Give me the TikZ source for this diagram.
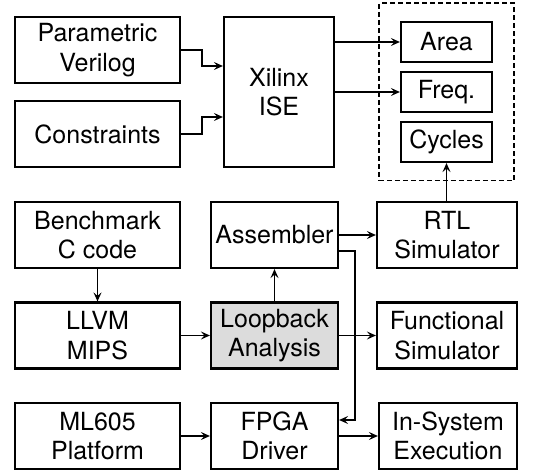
\documentclass[tikz,border=0pt]{standalone}
\usepackage{fontspec}
\setmainfont{TeX Gyre Heros}
\usetikzlibrary{arrows.meta,fit}
\definecolor{boxgray}{HTML}{DCDCDC}
\tikzset{
  box/.style={draw, line width=2.2pt, rectangle, align=center, inner sep=0pt,
    font=\fontsize{25}{29.5}\selectfont},
  lbox/.style={box, minimum width=165pt, minimum height=66pt},
  mbox/.style={box, minimum width=127pt, minimum height=66pt},
  rbox/.style={box, minimum width=140pt, minimum height=66pt},
  sbox/.style={box, minimum width=91pt, minimum height=40pt},
  arr/.style={line width=1.8pt, -{Stealth[length=9pt,width=8pt,inset=3.5pt]}},
  grp/.style={draw, line width=1.8pt, dash pattern=on 5pt off 3pt}
}
\begin{document}
\begin{tikzpicture}[x=1pt,y=-1pt]
\useasboundingbox (0,0) rectangle (544,470);
% top part
\node[lbox] (pv) at (97.5,50) {Parametric\\Verilog};
\node[lbox] (cons) at (97.5,134) {Constraints};
\node[box, minimum width=110pt, minimum height=150pt] (ise) at (279,92) {Xilinx\\ISE};
\node[sbox] (area) at (446.5,42) {Area};
\node[sbox] (freq) at (446.5,92) {Freq.};
\node[sbox] (cycles) at (446.5,142) {Cycles};
\node[grp, fit=(area)(freq)(cycles), inner xsep=21pt, inner ysep=17.5pt] (res) {};
% lower grid
\node[lbox] (bench) at (97.5,235) {Benchmark\\C code};
\node[mbox] (asm) at (274.5,235) {Assembler};
\node[rbox] (rtl) at (447,235) {RTL\\Simulator};
\node[lbox] (llvm) at (97.5,335.5) {LLVM\\MIPS};
\node[mbox, fill=boxgray] (loop) at (274.5,335.5) {Loopback\\Analysis};
\node[rbox] (func) at (447,335.5) {Functional\\Simulator};
\node[lbox] (ml) at (97.5,436) {ML605\\Platform};
\node[mbox] (fpga) at (274.5,436) {FPGA\\Driver};
\node[box, minimum width=138pt, minimum height=66pt] (ins) at (448,436) {In-System\\Execution};
% connectors
\draw[arr] (pv.east) -- ++(21,0) |- ([yshift=26pt]ise.west);
\draw[arr] (cons.east) -- ++(21,0) |- ([yshift=-25pt]ise.west);
\draw[arr] (ise.east |- area.west) -- (area.west);
\draw[arr] (ise.east |- freq.west) -- (freq.west);
\draw[arr] (rtl.north -| cycles.south) -- (cycles.south);
\draw[arr] (bench.south) -- (llvm.north);
\draw[arr] (loop.north) -- (asm.south);
\draw[arr] (asm.east) -- (rtl.west);
\draw[arr] ([yshift=-16pt]asm.east) -- ++(16,0) |- ([yshift=16pt]fpga.east);
\draw[arr] (llvm.east) -- (loop.west);
\draw[arr] (loop.east) -- (func.west);
\draw[arr] (ml.east) -- (fpga.west);
\draw[arr] (fpga.east) -- (ins.west);
\end{tikzpicture}
\end{document}
